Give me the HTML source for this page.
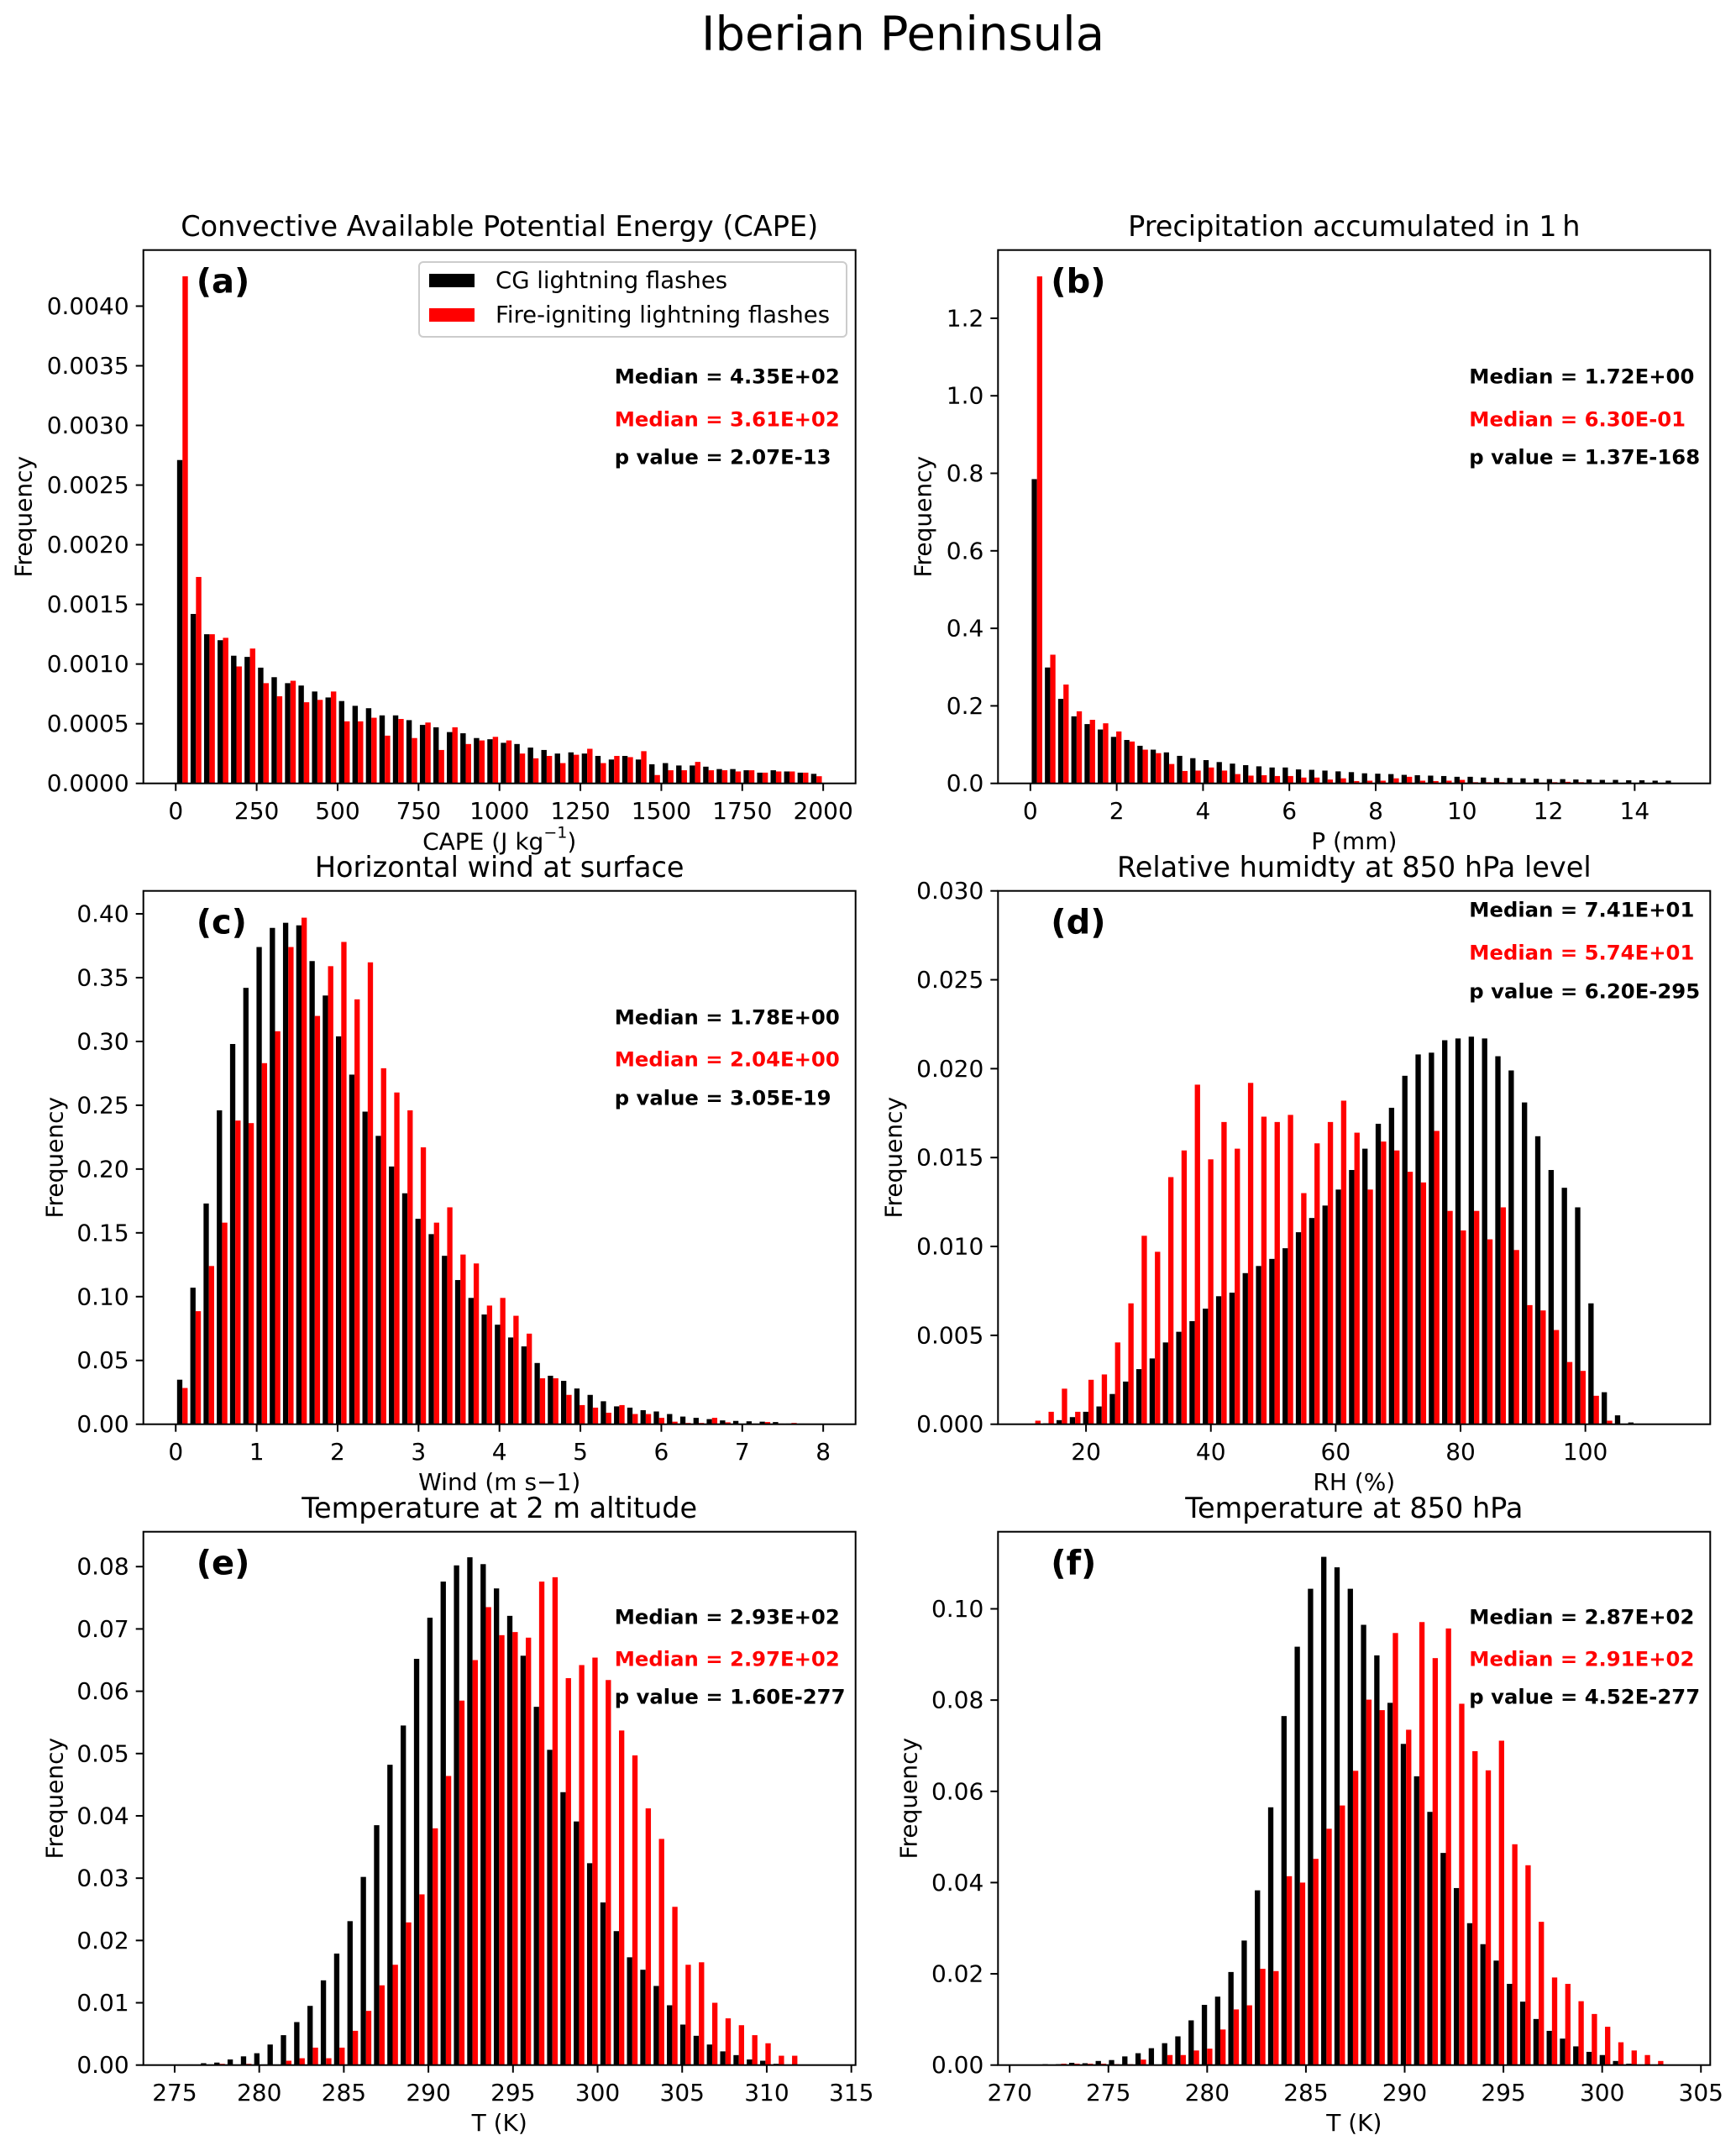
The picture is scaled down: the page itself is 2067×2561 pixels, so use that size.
<!DOCTYPE html>
<html><head><meta charset="utf-8"><title>Iberian Peninsula</title>
<style>
html,body{margin:0;padding:0;background:#fff;}
svg{display:block;font-family:"DejaVu Sans","Liberation Sans",sans-serif;}
</style></head>
<body>
<svg id="fig" width="2067" height="2561" viewBox="0 0 2067 2561" xmlns="http://www.w3.org/2000/svg">
<rect width="2067" height="2561" fill="#fff"/>
<text x="1075" y="41" font-size="56" text-anchor="middle" dominant-baseline="central">Iberian Peninsula</text>
</svg>
<script>
// ---- data ----
const aBlack=[0.00271,0.00142,0.00125,0.00120,0.00107,0.00106,0.00097,0.00089,0.00084,0.00082,0.00077,0.00072,0.00069,0.00065,0.00063,0.00057,0.00057,0.00053,0.00049,0.00047,0.00043,0.00042,0.00038,0.00037,0.00034,0.00033,0.00030,0.00028,0.00025,0.00026,0.00025,0.00023,0.00020,0.00023,0.00020,0.00016,0.00017,0.00015,0.00015,0.00014,0.00012,0.00012,0.00011,0.00009,0.00011,0.00010,0.00009,0.00008];
const aRed=[0.00425,0.00173,0.00125,0.00122,0.00098,0.00113,0.00084,0.00073,0.00086,0.00068,0.00070,0.00077,0.00052,0.00052,0.00055,0.00040,0.00054,0.00038,0.00051,0.00028,0.00047,0.00033,0.00036,0.00039,0.00036,0.00025,0.00021,0.00023,0.00017,0.00024,0.00029,0.00017,0.00023,0.00022,0.00027,0.00007,0.00011,0.00011,0.00018,0.00011,0.00011,0.00010,0.00011,0.00009,0.00010,0.00010,0.00009,0.00006];
const bBlack=[0.785,0.299,0.218,0.173,0.153,0.139,0.120,0.112,0.097,0.087,0.080,0.071,0.065,0.060,0.055,0.051,0.047,0.044,0.041,0.041,0.036,0.035,0.033,0.031,0.029,0.026,0.025,0.024,0.022,0.021,0.020,0.019,0.017,0.017,0.015,0.014,0.014,0.013,0.012,0.011,0.011,0.010,0.010,0.009,0.009,0.008,0.008,0.007,0.007];
const bRed=[1.308,0.332,0.255,0.186,0.164,0.155,0.134,0.108,0.087,0.078,0.050,0.032,0.033,0.041,0.033,0.024,0.020,0.021,0.019,0.019,0.015,0.015,0.010,0.013,0.006,0.007,0.007,0.013,0.017,0.007,0.006,0.007,0.009,0.003,0.003,0.003,0.002,0.002,0.002,0.003,0.004,0.003,0.002,0.001,0.001,0.001,0.001,0.001,0.001];
const cBlack=[0.0349,0.107,0.173,0.246,0.298,0.342,0.374,0.389,0.393,0.391,0.363,0.336,0.304,0.274,0.245,0.226,0.202,0.181,0.161,0.149,0.132,0.113,0.099,0.086,0.078,0.068,0.061,0.048,0.038,0.034,0.028,0.023,0.018,0.014,0.013,0.011,0.010,0.008,0.006,0.005,0.004,0.003,0.0026,0.0023,0.002,0.0017,0.0005,0.0005,0.0003];
const cRed=[0.0284,0.0886,0.124,0.158,0.238,0.236,0.283,0.308,0.374,0.397,0.320,0.359,0.378,0.333,0.362,0.279,0.260,0.246,0.217,0.158,0.170,0.133,0.126,0.093,0.099,0.085,0.071,0.036,0.036,0.023,0.015,0.013,0.009,0.015,0.008,0.008,0.005,0.002,0.001,0.001,0.005,0.0015,0.0003,0.0005,0.0017,0.0005,0.001,0.0005,0.0002];
const dBlack=[0,0.00005,0.00023,0.0004,0.0007,0.001,0.0017,0.0024,0.0031,0.0037,0.0046,0.0052,0.0058,0.0065,0.0072,0.0074,0.0085,0.0089,0.0093,0.0099,0.0108,0.0116,0.0123,0.0132,0.0143,0.0155,0.0169,0.0178,0.0196,0.0208,0.0209,0.0216,0.0217,0.0218,0.0217,0.0207,0.0199,0.0181,0.0162,0.0143,0.0133,0.0122,0.0068,0.0018,0.0005,0.0001];
const dRed=[0.0002,0.0007,0.0020,0.0007,0.0025,0.0028,0.0046,0.0068,0.0106,0.0097,0.0139,0.0154,0.0191,0.0149,0.0170,0.0155,0.0192,0.0173,0.0170,0.0174,0.0130,0.0158,0.0170,0.0182,0.0164,0.0132,0.0159,0.0154,0.0142,0.0136,0.0165,0.0120,0.0109,0.0120,0.0104,0.0122,0.0098,0.0067,0.0064,0.0053,0.0035,0.0030,0.0016,0.0002,0,0];
const eBlack=[0.0001,0.0001,0.0003,0.0004,0.0009,0.0014,0.0019,0.0033,0.0048,0.0069,0.0095,0.0136,0.0179,0.0231,0.0302,0.0385,0.0482,0.0545,0.0652,0.0718,0.0776,0.0802,0.0815,0.0804,0.0765,0.0721,0.0657,0.0575,0.0506,0.0438,0.0391,0.0324,0.0261,0.0215,0.0173,0.0153,0.0127,0.0096,0.0065,0.0047,0.0033,0.0022,0.0016,0.0009,0.0007,0.0002,0.0001];
const eRed=[0,0,0,0.0002,0,0.0002,0,0,0.0007,0.0011,0.0028,0.0011,0.0028,0.0055,0.0087,0.0128,0.0161,0.0229,0.0274,0.0380,0.0464,0.0585,0.0650,0.0735,0.0690,0.0695,0.0686,0.0776,0.0783,0.0621,0.0642,0.0654,0.0618,0.0537,0.0497,0.0412,0.0363,0.0254,0.0161,0.0165,0.0100,0.0075,0.0064,0.0048,0.0035,0.0015,0.0015];
const fBlack=[0.0002,0.0002,0.0005,0.0004,0.0009,0.0011,0.0019,0.0026,0.0037,0.0048,0.0063,0.0098,0.0132,0.0150,0.0204,0.0273,0.0383,0.0565,0.0765,0.0917,0.1044,0.1114,0.1091,0.1044,0.0965,0.0898,0.0794,0.0704,0.0633,0.0555,0.0465,0.0388,0.0311,0.0265,0.0229,0.0178,0.0139,0.0101,0.0075,0.0058,0.0041,0.0029,0.0022,0.0009,0.0003,0,0];
const fRed=[0,0.0003,0.0003,0.0003,0.0003,0.0002,0.0002,0.0012,0,0.0022,0.0022,0.0032,0.0036,0.0078,0.0122,0.0131,0.0211,0.0206,0.0414,0.0400,0.0452,0.0518,0.0569,0.0645,0.0801,0.0778,0.0947,0.0735,0.0971,0.0892,0.0957,0.0792,0.0688,0.0646,0.0711,0.0484,0.0438,0.0314,0.0192,0.0178,0.0140,0.0112,0.0084,0.0050,0.0032,0.0022,0.0009];
// bin edges: first edge and width
const aBins=[0,41.667], bBins=[0,0.306], cBins=[0,0.1636], dBins=[10.8,2.13], eBins=[274.9,0.787], fBins=[271.6,0.6716];
// tick values and labels
const aXTicks=[0,250,500,750,1000,1250,1500,1750,2000];
const aYTicks=[0,0.0005,0.0010,0.0015,0.0020,0.0025,0.0030,0.0035,0.0040];
const aYLabels=["0.0000","0.0005","0.0010","0.0015","0.0020","0.0025","0.0030","0.0035","0.0040"];
const bXTicks=[0,2,4,6,8,10,12,14];
const bYTicks=[0,0.2,0.4,0.6,0.8,1.0,1.2];
const bYLabels=["0.0","0.2","0.4","0.6","0.8","1.0","1.2"];
const cXTicks=[0,1,2,3,4,5,6,7,8];
const cYTicks=[0,0.05,0.10,0.15,0.20,0.25,0.30,0.35,0.40];
const cYLabels=["0.00","0.05","0.10","0.15","0.20","0.25","0.30","0.35","0.40"];
const dXTicks=[20,40,60,80,100];
const dYTicks=[0,0.005,0.010,0.015,0.020,0.025,0.030];
const dYLabels=["0.000","0.005","0.010","0.015","0.020","0.025","0.030"];
const eXTicks=[275,280,285,290,295,300,305,310,315];
const eYTicks=[0,0.01,0.02,0.03,0.04,0.05,0.06,0.07,0.08];
const eYLabels=["0.00","0.01","0.02","0.03","0.04","0.05","0.06","0.07","0.08"];
const fXTicks=[270,275,280,285,290,295,300,305];
const fYTicks=[0,0.02,0.04,0.06,0.08,0.10];
const fYLabels=["0.00","0.02","0.04","0.06","0.08","0.10"];
const aStats=["Median = 4.35E+02","Median = 3.61E+02","p value = 2.07E-13"];
const bStats=["Median = 1.72E+00","Median = 6.30E-01","p value = 1.37E-168"];
const cStats=["Median = 1.78E+00","Median = 2.04E+00","p value = 3.05E-19"];
const dStats=["Median = 7.41E+01","Median = 5.74E+01","p value = 6.20E-295"];
const eStats=["Median = 2.93E+02","Median = 2.97E+02","p value = 1.60E-277"];
const fStats=["Median = 2.87E+02","Median = 2.91E+02","p value = 4.52E-277"];

const NS="http://www.w3.org/2000/svg";
const svg=document.getElementById('fig');
function mk(tag,attrs,parent,text){
  const e=document.createElementNS(NS,tag);
  for(const k in attrs)e.setAttribute(k,attrs[k]);
  if(text!==undefined)e.textContent=text;
  (parent||svg).appendChild(e);return e;
}
const W=848,H=635;
const panels=[
 {id:'a',x0:170.7,y0:297.7,xl:[-100,2100],yl:[0,0.00447],blk:aBlack,red:aRed,bins:aBins,xt:aXTicks,yt:aYTicks,yls:aYLabels,title:"Convective Available Potential Energy (CAPE)",xlab:"cape",ylabX:28,stats:aStats,statY:[448,499,544]},
 {id:'b',x0:1188.3,y0:297.7,xl:[-0.75,15.75],yl:[0,1.376],blk:bBlack,red:bRed,bins:bBins,xt:bXTicks,yt:bYTicks,yls:bYLabels,title:"Precipitation accumulated in 1\u2009h",xlab:"P (mm)",ylabX:1099,stats:bStats,statY:[448,499,544]},
 {id:'c',x0:170.7,y0:1060.7,xl:[-0.4,8.4],yl:[0,0.418],blk:cBlack,red:cRed,bins:cBins,xt:cXTicks,yt:cYTicks,yls:cYLabels,title:"Horizontal wind at surface",xlab:"Wind (m s\u22121)",ylabX:65,stats:cStats,statY:[1211,1261,1307]},
 {id:'d',x0:1188.3,y0:1060.7,xl:[5.9,120],yl:[0,0.030],blk:dBlack,red:dRed,bins:dBins,xt:dXTicks,yt:dYTicks,yls:dYLabels,title:"Relative humidty at 850 hPa level",xlab:"RH (%)",ylabX:1064,stats:dStats,statY:[1083,1134,1180]},
 {id:'e',x0:170.7,y0:1823.7,xl:[273.15,315.25],yl:[0,0.0856],blk:eBlack,red:eRed,bins:eBins,xt:eXTicks,yt:eYTicks,yls:eYLabels,title:"Temperature at 2 m altitude",xlab:"T (K)",ylabX:65,stats:eStats,statY:[1925,1975,2020]},
 {id:'f',x0:1188.3,y0:1823.7,xl:[269.41,305.47],yl:[0,0.1169],blk:fBlack,red:fRed,bins:fBins,xt:fXTicks,yt:fYTicks,yls:fYLabels,title:"Temperature at 850 hPa",xlab:"T (K)",ylabX:1082,stats:fStats,statY:[1925,1975,2020]}
];
panels.forEach(p=>{
  const sx=v=>p.x0+(v-p.xl[0])/(p.xl[1]-p.xl[0])*W;
  const sy=v=>p.y0+H-(v-p.yl[0])/(p.yl[1]-p.yl[0])*H;
  const g=mk('g',{});
  
  
  const w=p.bins[1];
  p.blk.forEach((v,i)=>{
    const left=p.bins[0]+i*w;
    const r=mk('rect',{x:sx(left+0.1*w),y:sy(v),width:sx(left+0.5*w)-sx(left+0.1*w),height:sy(0)-sy(v),fill:'#000'},g);
    
    
  });
  p.red.forEach((v,i)=>{
    const left=p.bins[0]+i*w;
    const r=mk('rect',{x:sx(left+0.5*w),y:sy(v),width:sx(left+0.9*w)-sx(left+0.5*w),height:sy(0)-sy(v),fill:'#ff0000'},g);
    
    
  });
  const fr=mk('rect',{x:p.x0,y:p.y0,width:W,height:H,fill:'none',stroke:'#000','stroke-width':2},g);
  
  
  p.xt.forEach(v=>{
    const x=sx(v);
    mk('line',{x1:x,x2:x,y1:p.y0+H,y2:p.y0+H+9,stroke:'#000','stroke-width':2},g);
    const t=mk('text',{x:x,y:p.y0+H+33,'font-size':28,'text-anchor':'middle','dominant-baseline':'central'},g,String(v));
    
    
  });
  p.yt.forEach((v,i)=>{
    const y=sy(v);
    mk('line',{x1:p.x0-9,x2:p.x0,y1:y,y2:y,stroke:'#000','stroke-width':2},g);
    const t=mk('text',{x:p.x0-17,y:y,'font-size':28,'text-anchor':'end','dominant-baseline':'central'},g,p.yls[i]);
    
    
  });
  const tt=mk('text',{x:p.x0+W/2,y:p.y0-28,'font-size':33.5,'text-anchor':'middle','dominant-baseline':'central'},g,p.title);
  
  
  let xl;
  if(p.xlab==='cape'){
    xl=mk('text',{x:p.x0+W/2,y:p.y0+H+69,'font-size':28,'text-anchor':'middle','dominant-baseline':'central'},g);
    mk('tspan',{},xl,'CAPE (J kg');
    mk('tspan',{dy:-10,'font-size':19},xl,'\u22121');
    mk('tspan',{dy:10},xl,')');
  } else {
    xl=mk('text',{x:p.x0+W/2,y:p.y0+H+69,'font-size':28,'text-anchor':'middle','dominant-baseline':'central'},g,p.xlab);
  }
  
  
  const yl=mk('text',{x:p.ylabX,y:p.y0+H/2,'font-size':28,'text-anchor':'middle','dominant-baseline':'central',transform:`rotate(-90 ${p.ylabX} ${p.y0+H/2})`},g,'Frequency');
  
  
  const pl=mk('text',{x:p.x0+63,y:p.y0+38,'font-size':40,'font-weight':'bold','dominant-baseline':'central'},g,'('+p.id+')');
  
  
  const sxp=p.x0+561;
  const cols=['#000','#ff0000','#000'];
  p.stats.forEach((s,i)=>{
    const t=mk('text',{x:sxp,y:p.statY[i],'font-size':24.3,'font-weight':'bold',fill:cols[i],'dominant-baseline':'central'},g,s);
    
    
  });
});
const lg=mk('g',{});


mk('rect',{x:499,y:312,width:509,height:89,rx:5,fill:'#fff','fill-opacity':0.8,stroke:'#ccc','stroke-width':2},lg);
const l1=mk('rect',{x:511,y:326,width:54,height:16,fill:'#000'},lg);


const t1=mk('text',{x:590,y:334,'font-size':27.5,'dominant-baseline':'central'},lg,'CG lightning flashes');


const l2=mk('rect',{x:511,y:367,width:54,height:16,fill:'#ff0000'},lg);


const t2=mk('text',{x:590,y:375,'font-size':27.5,'dominant-baseline':'central'},lg,'Fire-igniting lightning flashes');


</script>
</body></html>
